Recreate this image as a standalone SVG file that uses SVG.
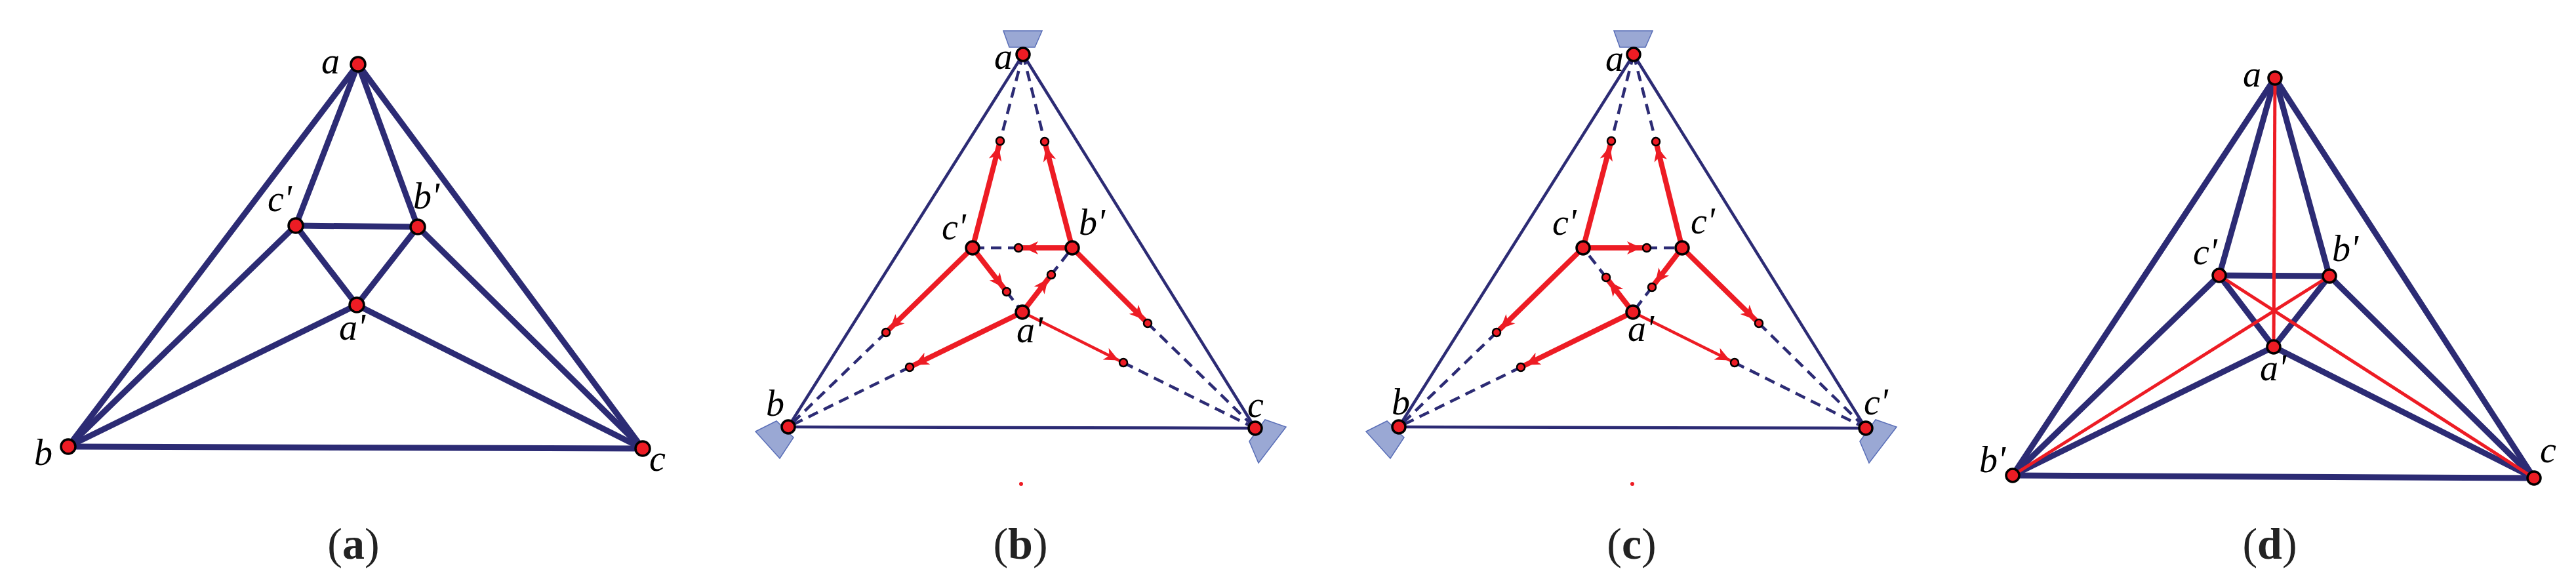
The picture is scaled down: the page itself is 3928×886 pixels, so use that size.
<svg xmlns="http://www.w3.org/2000/svg" width="3928" height="886" viewBox="0 0 3928 886">
<style>
.e{stroke:#2c2b74;stroke-width:9;stroke-linecap:round;fill:none}
.t{stroke:#2c2b74;stroke-width:4.5;fill:none}
.d{stroke:#2c2b74;stroke-width:4.5;stroke-dasharray:16 10;fill:none}
.r{stroke:#ed1c24;stroke-width:8;fill:none}
.rt{stroke:#ed1c24;stroke-width:4.5;fill:none}
.rl{stroke:#ed1c24;stroke-width:5;fill:none}
.n{fill:#ed1c24;stroke:#000;stroke-width:3.5}
.s{fill:#ed1c24;stroke:#000;stroke-width:2.5}
.p{fill:#9aa8d4;stroke:#5a6fb8;stroke-width:1.5}
.l{font-family:"Liberation Serif",serif;font-style:italic;font-size:56px;fill:#000}
.c{font-family:"Liberation Serif",serif;font-size:68px;fill:#222}
.cb{font-weight:bold}
</style>
<defs>
<marker id="ah" markerUnits="userSpaceOnUse" markerWidth="40" markerHeight="24" viewBox="0 0 40 24" refX="34" refY="12" orient="auto"><path d="M4,2 L26,12 L4,22 L10,12 z" fill="#ed1c24"/></marker>
</defs>
<g id="connectors">
<!-- panel a -->
<g>
<line class="e" x1="546" y1="98" x2="104" y2="681"/><line class="e" x1="546" y1="98" x2="980" y2="684"/>
<line class="e" x1="546" y1="98" x2="451" y2="344"/><line class="e" x1="546" y1="98" x2="637" y2="346"/>
<line class="e" x1="451" y1="344" x2="637" y2="346"/><line class="e" x1="451" y1="344" x2="104" y2="681"/>
<line class="e" x1="451" y1="344" x2="544" y2="465"/><line class="e" x1="637" y1="346" x2="544" y2="465"/>
<line class="e" x1="637" y1="346" x2="980" y2="684"/><line class="e" x1="544" y1="465" x2="104" y2="681"/>
<line class="e" x1="544" y1="465" x2="980" y2="684"/><line class="e" x1="104" y1="681" x2="980" y2="684"/>
</g>
<!-- panel b -->
<g>
<line class="t" x1="1560" y1="83" x2="1202" y2="651"/><line class="t" x1="1560" y1="83" x2="1914" y2="653"/><line class="t" x1="1202" y1="651" x2="1914" y2="653"/>
<line class="d" x1="1560" y1="83" x2="1525" y2="215"/><line class="d" x1="1560" y1="83" x2="1593" y2="216"/>
<line class="d" x1="1553" y1="378" x2="1483" y2="378"/><line class="d" x1="1603" y1="419" x2="1635" y2="378"/>
<line class="d" x1="1535" y1="445" x2="1559" y2="476"/><line class="d" x1="1351" y1="507" x2="1202" y2="651"/>
<line class="d" x1="1387" y1="560" x2="1202" y2="651"/><line class="d" x1="1750" y1="493" x2="1914" y2="653"/>
<line class="d" x1="1713" y1="553" x2="1914" y2="653"/>
<line class="r" marker-end="url(#ah)" x1="1483" y1="378" x2="1525" y2="215"/>
<line class="r" marker-end="url(#ah)" x1="1635" y1="378" x2="1593" y2="216"/>
<line class="r" marker-end="url(#ah)" x1="1635" y1="378" x2="1553" y2="378"/>
<line class="r" marker-end="url(#ah)" x1="1559" y1="476" x2="1603" y2="419"/>
<line class="r" marker-end="url(#ah)" x1="1483" y1="378" x2="1535" y2="445"/>
<line class="r" marker-end="url(#ah)" x1="1483" y1="378" x2="1351" y2="507"/>
<line class="r" marker-end="url(#ah)" x1="1559" y1="476" x2="1387" y2="560"/>
<line class="r" marker-end="url(#ah)" x1="1635" y1="378" x2="1750" y2="493"/>
<line class="rt" marker-end="url(#ah)" x1="1559" y1="476" x2="1713" y2="553"/>
</g>
<!-- panel c -->
<g>
<line class="t" x1="2491" y1="83" x2="2133" y2="651"/><line class="t" x1="2491" y1="83" x2="2845" y2="653"/><line class="t" x1="2133" y1="651" x2="2845" y2="653"/>
<line class="d" x1="2491" y1="83" x2="2457" y2="215"/><line class="d" x1="2491" y1="83" x2="2525" y2="216"/>
<line class="d" x1="2511" y1="378" x2="2565" y2="378"/><line class="d" x1="2449" y1="423" x2="2414" y2="378"/>
<line class="d" x1="2519" y1="438" x2="2490" y2="476"/><line class="d" x1="2282" y1="507" x2="2133" y2="651"/>
<line class="d" x1="2319" y1="560" x2="2133" y2="651"/><line class="d" x1="2682" y1="493" x2="2845" y2="653"/>
<line class="d" x1="2645" y1="553" x2="2845" y2="653"/>
<line class="r" marker-end="url(#ah)" x1="2414" y1="378" x2="2457" y2="215"/>
<line class="r" marker-end="url(#ah)" x1="2565" y1="378" x2="2525" y2="216"/>
<line class="r" marker-end="url(#ah)" x1="2414" y1="378" x2="2511" y2="378"/>
<line class="r" marker-end="url(#ah)" x1="2490" y1="476" x2="2449" y2="423"/>
<line class="r" marker-end="url(#ah)" x1="2565" y1="378" x2="2519" y2="438"/>
<line class="r" marker-end="url(#ah)" x1="2414" y1="378" x2="2282" y2="507"/>
<line class="r" marker-end="url(#ah)" x1="2490" y1="476" x2="2319" y2="560"/>
<line class="r" marker-end="url(#ah)" x1="2565" y1="378" x2="2682" y2="493"/>
<line class="rt" marker-end="url(#ah)" x1="2490" y1="476" x2="2645" y2="553"/>
</g>
<!-- panel d -->
<g>
<line class="e" x1="3469" y1="119" x2="3069" y2="725"/><line class="e" x1="3469" y1="119" x2="3864" y2="729"/>
<line class="e" x1="3469" y1="119" x2="3384" y2="420"/><line class="e" x1="3469" y1="119" x2="3552" y2="421"/>
<line class="e" x1="3384" y1="420" x2="3552" y2="421"/><line class="e" x1="3384" y1="420" x2="3069" y2="725"/>
<line class="e" x1="3384" y1="420" x2="3467" y2="529"/><line class="e" x1="3552" y1="421" x2="3467" y2="529"/>
<line class="e" x1="3552" y1="421" x2="3864" y2="729"/><line class="e" x1="3467" y1="529" x2="3069" y2="725"/>
<line class="e" x1="3467" y1="529" x2="3864" y2="729"/><line class="e" x1="3069" y1="725" x2="3864" y2="729"/>
<line class="rl" x1="3469" y1="119" x2="3467" y2="529"/>
<line class="rl" x1="3384" y1="420" x2="3864" y2="729"/>
<line class="rl" x1="3552" y1="421" x2="3069" y2="725"/>
</g>
</g>
<g id="handles">
<polygon class="p" points="1530,47 1589,47 1578,72 1539,72"/>
<polygon class="p" points="1152,658 1184,642 1210,667 1189,699"/>
<polygon class="p" points="1905,673 1929,640 1961,651 1919,706"/>
<polygon class="p" points="2461,47 2520,47 2509,72 2470,72"/>
<polygon class="p" points="2083,658 2115,642 2141,667 2120,699"/>
<polygon class="p" points="2836,673 2860,640 2892,651 2850,706"/>
<circle cx="1557" cy="738" r="3" fill="#ed1c24"/>
<circle cx="2489" cy="738" r="3" fill="#ed1c24"/>
</g>
<g id="panel-a">
<g id="a-a"><circle class="n" cx="546" cy="98" r="11"/><text class="l" x="490" y="112">a</text></g>
<g id="a-c1"><circle class="n" cx="451" cy="344" r="11"/><text class="l" x="408" y="322">c'</text></g>
<g id="a-b1"><circle class="n" cx="637" cy="346" r="11"/><text class="l" x="630" y="318">b'</text></g>
<g id="a-a1"><circle class="n" cx="544" cy="465" r="11"/><text class="l" x="517" y="518">a'</text></g>
<g id="a-b"><circle class="n" cx="104" cy="681" r="11"/><text class="l" x="52" y="709">b</text></g>
<g id="a-c"><circle class="n" cx="980" cy="684" r="11"/><text class="l" x="990" y="718">c</text></g>
<text class="c" x="539" y="852" text-anchor="middle">(<tspan class="cb">a</tspan>)</text>
</g>
<g id="panel-b">
<circle class="s" cx="1525" cy="215" r="6"/><circle class="s" cx="1593" cy="216" r="6"/><circle class="s" cx="1553" cy="378" r="6"/>
<circle class="s" cx="1603" cy="419" r="6"/><circle class="s" cx="1535" cy="445" r="6"/><circle class="s" cx="1351" cy="507" r="6"/>
<circle class="s" cx="1387" cy="560" r="6"/><circle class="s" cx="1750" cy="493" r="6"/><circle class="s" cx="1713" cy="553" r="6"/>
<g id="b-a"><circle class="n" cx="1560" cy="83" r="10"/><text class="l" x="1516" y="105">a</text></g>
<g id="b-c1"><circle class="n" cx="1483" cy="378" r="10"/><text class="l" x="1436" y="365">c'</text></g>
<g id="b-b1"><circle class="n" cx="1635" cy="378" r="10"/><text class="l" x="1645" y="358">b'</text></g>
<g id="b-a1"><circle class="n" cx="1559" cy="476" r="10"/><text class="l" x="1550" y="522">a'</text></g>
<g id="b-b"><circle class="n" cx="1202" cy="651" r="10"/><text class="l" x="1168" y="634">b</text></g>
<g id="b-c"><circle class="n" cx="1914" cy="653" r="10"/><text class="l" x="1902" y="636">c</text></g>
<text class="c" x="1556" y="852" text-anchor="middle">(<tspan class="cb">b</tspan>)</text>
</g>
<g id="panel-c">
<circle class="s" cx="2457" cy="215" r="6"/><circle class="s" cx="2525" cy="216" r="6"/><circle class="s" cx="2511" cy="378" r="6"/>
<circle class="s" cx="2449" cy="423" r="6"/><circle class="s" cx="2519" cy="438" r="6"/><circle class="s" cx="2282" cy="507" r="6"/>
<circle class="s" cx="2319" cy="560" r="6"/><circle class="s" cx="2682" cy="493" r="6"/><circle class="s" cx="2645" cy="553" r="6"/>
<g id="c-a"><circle class="n" cx="2491" cy="83" r="10"/><text class="l" x="2448" y="108">a</text></g>
<g id="c-c1"><circle class="n" cx="2414" cy="378" r="10"/><text class="l" x="2367" y="358">c'</text></g>
<g id="c-c2"><circle class="n" cx="2565" cy="378" r="10"/><text class="l" x="2578" y="356">c'</text></g>
<g id="c-a1"><circle class="n" cx="2490" cy="476" r="10"/><text class="l" x="2482" y="520">a'</text></g>
<g id="c-b"><circle class="n" cx="2133" cy="651" r="10"/><text class="l" x="2122" y="632">b</text></g>
<g id="c-c3"><circle class="n" cx="2845" cy="653" r="10"/><text class="l" x="2842" y="632">c'</text></g>
<text class="c" x="2488" y="852" text-anchor="middle">(<tspan class="cb">c</tspan>)</text>
</g>
<g id="panel-d">
<g id="d-a"><circle class="n" cx="3469" cy="119" r="10"/><text class="l" x="3420" y="132">a</text></g>
<g id="d-c1"><circle class="n" cx="3384" cy="420" r="10"/><text class="l" x="3344" y="403">c'</text></g>
<g id="d-b1"><circle class="n" cx="3552" cy="421" r="10"/><text class="l" x="3556" y="398">b'</text></g>
<g id="d-a1"><circle class="n" cx="3467" cy="529" r="10"/><text class="l" x="3446" y="580">a'</text></g>
<g id="d-b2"><circle class="n" cx="3069" cy="725" r="10"/><text class="l" x="3018" y="720">b'</text></g>
<g id="d-c"><circle class="n" cx="3864" cy="729" r="10"/><text class="l" x="3873" y="705">c</text></g>
<text class="c" x="3461" y="852" text-anchor="middle">(<tspan class="cb">d</tspan>)</text>
</g>
</svg>
